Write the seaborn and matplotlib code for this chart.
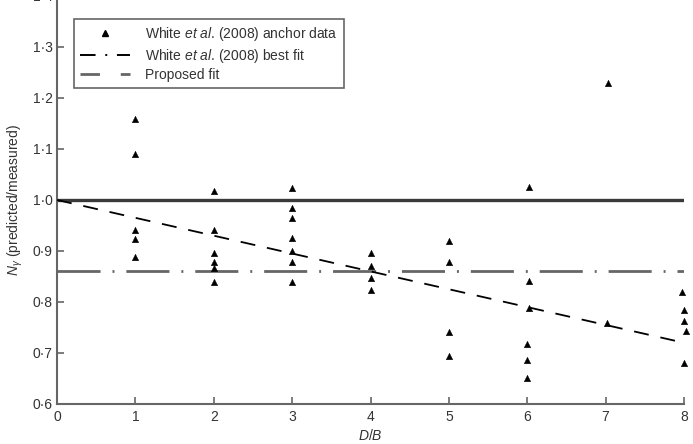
import numpy as np
import pandas as pd
import matplotlib
matplotlib.use("Agg")
import matplotlib.pyplot as plt
from matplotlib.lines import Line2D
from matplotlib.ticker import FuncFormatter
import seaborn as sns

# ---- data ----
db_x = [1, 1, 1, 1, 1,
        2, 2, 2, 2, 2, 2,
        3, 3, 3, 3, 3, 3, 3,
        4, 4, 4, 4,
        5, 5, 5, 5,
        6, 6, 6, 6, 6, 6,
        7, 7,
        8, 8, 8, 8, 8]
ratio_y = [1.159, 1.090, 0.941, 0.923, 0.888,
           1.018, 0.941, 0.896, 0.878, 0.867, 0.840,
           1.023, 0.985, 0.964, 0.926, 0.900, 0.879, 0.839,
           0.897, 0.871, 0.847, 0.824,
           0.920, 0.879, 0.742, 0.695,
           1.025, 0.841, 0.789, 0.718, 0.686, 0.651,
           1.230, 0.759,
           0.820, 0.785, 0.762, 0.744, 0.680]
db_jitter = [0, 0, 0, 0, 0,
             0, 0, 0, 0, 0, 0,
             0, 0, 0, 0, 0, 0, 0,
             0, 0, 0, 0,
             0, 0, 0, 0,
             0.02, 0.02, 0.02, 0, 0, 0,
             0.03, 0.02,
             -0.02, 0, 0, 0.02, 0]

white_fit = 0.86
perfect = 1.0
fit_x = [0, 8]
fit_y = [1.0, 0.72]

anchor = pd.DataFrame({"DB": np.array(db_x) + np.array(db_jitter), "ratio": ratio_y})
fit = pd.DataFrame({"DB": fit_x, "ratio": fit_y})

sns.set_style("ticks")
plt.rcParams["font.family"] = ["Liberation Sans", "DejaVu Sans"]
plt.rcParams["mathtext.fontset"] = "custom"
plt.rcParams["mathtext.rm"] = "Liberation Sans"
plt.rcParams["mathtext.it"] = "Liberation Sans:italic"

fig = plt.figure(figsize=(6.93, 4.44), dpi=100)
ax = fig.add_axes([0.0823, 0.0901, 0.9047, 0.919])

grey = "#666666"

ax.axhline(perfect, color="#3a3a3a", lw=2.4, zorder=2)
ax.axhline(white_fit, color=grey, lw=2.0, dashes=(15.5, 4.3, 0.7, 4.3), zorder=2)
sns.lineplot(data=fit, x="DB", y="ratio", ax=ax, color="black", lw=1.3,
             dashes=False, zorder=3)
ax.lines[-1].set_dashes((8.3, 6.6))
sns.scatterplot(data=anchor, x="DB", y="ratio", ax=ax, marker="^", color="black",
                s=22, edgecolor="black", linewidth=0.3, zorder=4, clip_on=False)

ax.set_xlim(0, 8)
ax.set_ylim(0.6, 1.4)
ax.set_xticks(range(0, 9))
ax.set_yticks(np.arange(0.6, 1.41, 0.1))
dot = FuncFormatter(lambda v, p: f"{v:.1f}".replace(".", "\u00b7"))
ax.yaxis.set_major_formatter(dot)
ax.tick_params(direction="in", length=5, width=1.2, color=grey, labelsize=10,
               labelcolor="#333333")
ax.tick_params(axis="x", pad=4)
ax.tick_params(axis="y", pad=3)
for s in ["top", "right"]:
    ax.spines[s].set_visible(False)
for s in ["left", "bottom"]:
    ax.spines[s].set_color(grey)
    ax.spines[s].set_linewidth(1.5)

ax.set_xlabel("$\\it{D/B}$", fontsize=10, color="#333333", labelpad=3)
ax.set_ylabel("$N_{\\gamma}$ (predicted/measured)", fontsize=10, color="#333333", labelpad=6)

handles = [
    Line2D([], [], ls="none", marker="^", color="black", markersize=4.5),
    Line2D([], [], color="black", lw=1.4, dashes=(8, 5, 1, 5)),
    Line2D([], [], color=grey, lw=2.0, dashes=(7, 7.5)),
]
labels = [
    "White $\\it{et\\ al}$. (2008) anchor data",
    "White $\\it{et\\ al}$. (2008) best fit",
    "Proposed fit",
]
leg = ax.legend(handles, labels, loc="upper left", bbox_to_anchor=(0.027, 0.944),
                borderaxespad=0, fontsize=10, handlelength=3.6, handletextpad=1.1,
                labelspacing=0.25, borderpad=0.45, fancybox=False, framealpha=1,
                edgecolor=grey)
leg.get_frame().set_linewidth(1.2)
for t in leg.get_texts():
    t.set_color("#333333")

# the reference frame has extra room on the right
fig.canvas.draw()
frame = leg.get_frame()
frame.set_width(frame.get_width() + 16)

fig.savefig("out.png", dpi=100)
